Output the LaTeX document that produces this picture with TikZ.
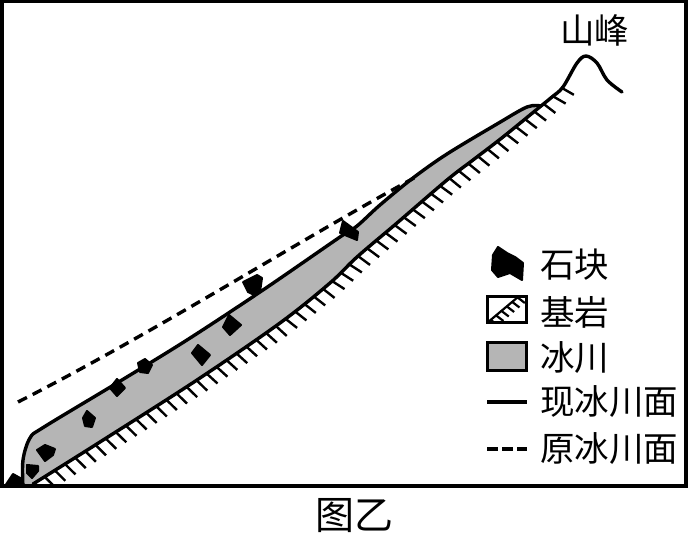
\documentclass[tikz,border=0pt]{standalone}
\usepackage{fontspec}
\setmainfont{Noto Sans CJK SC}
\usetikzlibrary{decorations.markings}
\tikzset{
  surface/.style={line width=3.4pt,black,line join=round,line cap=round},
  oldsurface/.style={line width=3.4pt,black,dash pattern=on 10pt off 6.5pt},
  rock/.style={fill=black,draw=black,line width=2pt,line join=round},
  hachure/.style={postaction={decorate},
    decoration={markings,mark=between positions 0 and 1 step 12pt with {\draw[line width=2.4pt,black] (0,0) -- (3.4,14.5);}}},
  smallhachure/.style={postaction={decorate},
    decoration={markings,mark=between positions 0.12 and 1 step 7pt with {\draw[line width=2.2pt,black] (0,0) -- (2,9);}}},
  label/.style={inner sep=0pt,anchor=west,font=\fontsize{34.5}{34.5}\selectfont},
  boxitem/.style={line width=3pt,black}
}
\begin{document}
\begin{tikzpicture}[x=1pt,y=-1pt]
\useasboundingbox (0,0) rectangle (688,534);
\fill[white] (0,0) rectangle (688,534);

% ice body, bedrock and ice surface
\begin{scope}
\clip (2,2) rectangle (685,486);
\fill[black!29] plot[smooth,tension=0.55] coordinates {(23,488) (23,460) (30,438) (44,427) (117,383) (187,340) (263,290) (340,237) (357,226) (380,205) (413,178) (447,154) (497,124) (527,107) (541,106)}
  -- plot[smooth,tension=0.55] coordinates {(541,106) (503,137) (473,160) (447,180) (397,223) (357,257) (330,283) (280,323) (197,380) (100,442) (33,484)} -- cycle;
\path[hachure] (24,489) -- (33,484) -- (100,442) -- (197,380) -- (280,323) -- (330,283) -- (357,257) -- (397,223) -- (447,180) -- (473,160) -- (503,137) -- (541,106) -- (552,97) -- (566,82);
\draw[surface] plot[smooth,tension=0.55] coordinates {(33,484) (100,442) (197,380) (280,323) (330,283) (357,257) (397,223) (447,180) (473,160) (503,137) (541,106) (552,97) (563,87) (577,63) (586,56) (597,63) (607,80) (622,92)};
\draw[surface] plot[smooth,tension=0.55] coordinates {(23,488) (23,460) (30,438) (44,427) (117,383) (187,340) (263,290) (340,237) (357,226) (380,205) (413,178) (447,154) (497,124) (527,107) (541,106)};
\fill[rock] (5,486) -- (13,474) -- (22,479) -- (24,486) -- cycle;
\end{scope}

% former ice surface
\draw[oldsurface] (18,402) .. controls (150,335) and (300,240) .. (414,178);

% boulders
\fill[rock] (27,465) -- (38,466) -- (38,471) -- (32,478) -- (27,473) -- cycle;
\fill[rock] (37,450) -- (45,445) -- (55,449) -- (53,455) -- (45,461) -- cycle;
\fill[rock] (87,411) -- (95,418) -- (92,427) -- (85,426) -- (83,418) -- cycle;
\fill[rock] (117,379) -- (125,388) -- (117,396) -- (110,388) -- cycle;
\fill[rock] (145,359) -- (152,365) -- (148,373) -- (140,372) -- (138,363) -- cycle;
\fill[rock] (198,345) -- (210,355) -- (202,365) -- (192,353) -- cycle;
\fill[rock] (229,315) -- (241,325) -- (230,335) -- (223,327) -- cycle;
\fill[rock] (243,282) -- (257,275) -- (262,278) -- (260,292) -- (254,295) -- (248,292) -- cycle;
\fill[rock] (343,221) -- (358,232) -- (357,240) -- (340,233) -- cycle;

% legend keys
\fill[rock] (498,247) -- (507,253) -- (515,257) -- (523,263) -- (522,280) -- (510,273) -- (498,277) -- (492,270) -- (493,255) -- cycle;
\begin{scope}
\clip (487,297) rectangle (526,323);
\coordinate (hatchA) at (487,323);
\coordinate (hatchB) at (518,297);
\draw[line width=2.2pt] (hatchA) -- (hatchB);
\path[smallhachure] (hatchA) -- (hatchB);
\end{scope}
\draw[boxitem] (487,297) rectangle (526,323);
\draw[boxitem,fill=black!29] (487,343) rectangle (526,371);
\coordinate (solidL) at (487,402);
\coordinate (solidR) at (527,402);
\draw[line width=3.2pt] (solidL) -- (solidR);
\coordinate (dashL) at (487,449);
\coordinate (dashR) at (527,449);
\draw[line width=3.2pt,dash pattern=on 10.5pt off 4.5pt] (dashL) -- (dashR);

% labels
\node[label] (lblStone) at (540,265) {石块};
\node[label] (lblRock) at (540,312) {基岩};
\node[label] (lblIce) at (540,358) {冰川};
\node[label] (lblNow) at (540,402) {现冰川面};
\node[label] (lblOld) at (540,449) {原冰川面};
\node[label] (lblPeak) at (560,30) {山峰};
\node[label,font=\fontsize{39}{39}\selectfont] (lblTitle) at (315,516) {图乙};

% frame
\draw[line width=4pt] (2,1.5) rectangle (685.5,486);
\end{tikzpicture}
\end{document}
